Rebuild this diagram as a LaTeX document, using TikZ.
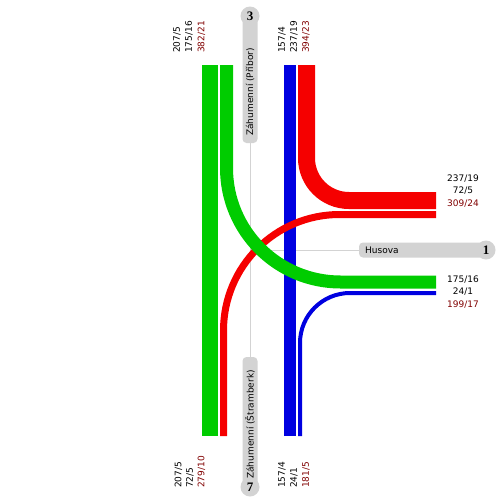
\documentclass[tikz,border=0pt]{standalone}
\usepackage{fontspec}
\setmainfont{DejaVu Sans}
\newfontfamily\numfont{Liberation Serif}
\definecolor{fgreen}{RGB}{0,204,0}
\definecolor{fred}{RGB}{245,0,0}
\definecolor{fblue}{RGB}{0,0,224}
\definecolor{lblgray}{RGB}{211,211,211}
\definecolor{totred}{RGB}{128,0,0}
\begin{document}
\begin{tikzpicture}[x=1pt,y=-1pt,
  band/.style={line cap=butt},
  guide/.style={draw=lblgray,line width=1pt},
  lbox/.style={fill=lblgray,rounded corners=4pt},
  numc/.style={circle,fill=lblgray,minimum size=19pt,inner sep=0pt,font=\numfont\bfseries\fontsize{13}{13}\selectfont},
  lbl/.style={inner sep=0pt,font=\fontsize{9}{9}\selectfont},
  vlbl/.style={lbl,rotate=90,anchor=west},
  tot/.style={text=totred}]
\useasboundingbox (0,0) rectangle (498,498);
% guide lines
\coordinate (gc) at (250,250);
\coordinate (gtop) at (250,143);
\coordinate (gbot) at (250,357);
\coordinate (grt) at (359,250);
\draw[guide] (gtop) -- (gbot);
\draw[guide] (gc) -- (grt);
% bands
\coordinate (g1T) at (210,65);   \coordinate (g1B) at (210,436);
\coordinate (g2T) at (226.5,65); \coordinate (g2R) at (436,282);
\coordinate (r1T) at (306.5,65); \coordinate (r1R) at (436,200.5);
\coordinate (r2B) at (223.5,436);\coordinate (r2R) at (436,214.5);
\coordinate (b1T) at (290,65);   \coordinate (b1B) at (290,436);
\coordinate (b2B) at (300,436);  \coordinate (b2R) at (436,293);
\draw[band,draw=fgreen,line width=16pt] (g1T) -- (g1B);
\draw[band,draw=fblue,line width=12pt] (b1T) -- (b1B);
\draw[band,draw=fred,line width=7pt,rounded corners=116pt] (r2B) |- (r2R);
\draw[band,draw=fgreen,line width=13pt,rounded corners=114pt] (g2T) |- (g2R);
\draw[band,draw=fred,line width=17pt,rounded corners=42.5pt] (r1T) |- (r1R);
\draw[band,draw=fblue,line width=4pt,rounded corners=50pt] (b2B) |- (b2R);
% street labels
\fill[lbox] (242.5,14) rectangle (257.5,143);
\node[numc] (c3) at (250,16) {3};
\node[vlbl] (t3) at (250,136) {Záhumenní (Příbor)};
\fill[lbox] (242.5,357) rectangle (257.5,486);
\node[numc] (c7) at (250,487) {7};
\node[vlbl] (t7) at (250,479) {Záhumenní (Štramberk)};
\fill[lbox] (359,242.5) rectangle (484,257.5);
\node[numc] (c1) at (486,250) {1};
\node[lbl,anchor=west] (t1) at (365,250) {Husova};
% counts top
\node[vlbl] (nt1) at (177,53) {207/5};
\node[vlbl] (nt2) at (189,53) {175/16};
\node[vlbl,tot] (nt3) at (201.5,53) {382/21};
\node[vlbl] (nt4) at (282,53) {157/4};
\node[vlbl] (nt5) at (294,53) {237/19};
\node[vlbl,tot] (nt6) at (306,53) {394/23};
% counts bottom
\node[vlbl] (nb1) at (178.5,488) {207/5};
\node[vlbl] (nb2) at (190,488) {72/5};
\node[vlbl,tot] (nb3) at (201.5,488) {279/10};
\node[vlbl] (nb4) at (282,488) {157/4};
\node[vlbl] (nb5) at (294,488) {24/1};
\node[vlbl,tot] (nb6) at (306,488) {181/5};
% counts right
\node[lbl] (nr1) at (463,178.5) {237/19};
\node[lbl] (nr2) at (463,191) {72/5};
\node[lbl,tot] (nr3) at (463,203.5) {309/24};
\node[lbl] (nr4) at (463,280) {175/16};
\node[lbl] (nr5) at (463,292) {24/1};
\node[lbl,tot] (nr6) at (463,304.5) {199/17};
\end{tikzpicture}
\end{document}
